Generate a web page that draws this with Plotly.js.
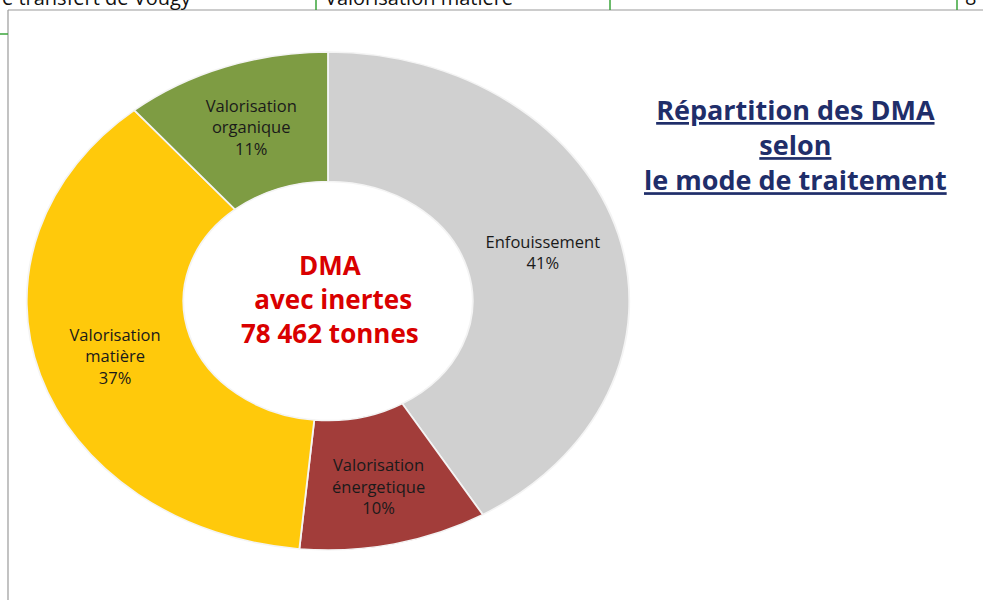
<!DOCTYPE html>
<html>
<head>
<meta charset="utf-8">
<script src="https://cdn.plot.ly/plotly-3.0.1.min.js"></script>
<style>
  html, body { margin: 0; padding: 0; background: #fff; }
  #chart { width: 983px; height: 600px; }
</style>
</head>
<body>
<div id="chart"></div>
<script>
// modes de traitement, dans l'ordre des aiguilles d'une montre depuis midi
const labels = ['Enfouissement', 'Valorisation<br>énergetique', 'Valorisation<br>matière', 'Valorisation<br>organique'];
const shares = [41, 10, 37, 11];
const colors = ['#d0d0d0', '#a23d3a', '#ffc90b', '#7e9c43'];

const centerText = ['DMA', ' avec inertes', '78 462 tonnes'];
const titleLines = ['Répartition des DMA', 'selon', 'le mode de traitement'];
// bout de tableau coupé en haut de l'image
const tableCells = ['e transfert de Vougy', 'Valorisation matière', '8'];

const W = 983, H = 600;
const stretchX = 1.21; // l'anneau est plus large que haut

const data = [{
  type: 'pie',
  labels: labels,
  values: shares,
  hole: 0.48,
  sort: false,
  direction: 'clockwise',
  rotation: 0,
  marker: {colors: colors, line: {color: '#f4f4f4', width: 1.5}},
  texttemplate: '%{label}<br>%{percent:.0%}',
  textposition: 'inside',
  insidetextorientation: 'horizontal',
  textfont: {family: 'Open Sans', size: 16.5, color: '#1a1a1a'},
  domain: {x: [(328 - 249) / W, (328 + 249) / W], y: [1 - 550 / H, 1 - 52 / H]},
  showlegend: false
}];

const ann = [{
  x: 330 / W, y: 1 - 299 / H, xref: 'paper', yref: 'paper',
  xanchor: 'center', yanchor: 'middle',
  text: '<b>' + centerText.join('<br>') + '</b>',
  showarrow: false,
  font: {family: 'Open Sans', size: 26, color: '#d90000'}
}, {
  x: 795 / W, y: 1 - 144 / H, xref: 'paper', yref: 'paper',
  xanchor: 'center', yanchor: 'middle',
  text: titleLines.map(t => '<b><span style="text-decoration:underline">' + t + '</span></b>').join('<br>'),
  showarrow: false,
  font: {family: 'Open Sans', size: 27, color: '#1f2e6a'}
}];

const cellX = [0, 323, 963];
tableCells.forEach((t, i) => {
  ann.push({
    x: cellX[i] / W, y: 1 + 2 / H, xref: 'paper', yref: 'paper',
    xanchor: 'left', yanchor: 'middle',
    text: t, showarrow: false,
    font: {family: 'Open Sans', size: 20, color: '#111'}
  });
});

const px = v => v / W, py = v => 1 - v / H;
const shapes = [
  {type: 'line', xref: 'paper', yref: 'paper', x0: px(8), x1: 1, y0: py(10), y1: py(10), line: {color: '#9a9a9a', width: 1.2}},
  {type: 'line', xref: 'paper', yref: 'paper', x0: px(8), x1: px(8), y0: py(10), y1: 0, line: {color: '#9a9a9a', width: 1.2}},
  {type: 'line', xref: 'paper', yref: 'paper', x0: 0, x1: px(8), y0: py(34), y1: py(34), line: {color: '#3aa53a', width: 1.5}}
];
[316, 610, 957].forEach(x => {
  shapes.push({type: 'line', xref: 'paper', yref: 'paper', x0: px(x), x1: px(x), y0: py(10), y1: 1, line: {color: '#3aa53a', width: 1.5}});
});

const layout = {
  width: W, height: H,
  margin: {l: 0, r: 0, t: 0, b: 0},
  paper_bgcolor: '#ffffff',
  annotations: ann,
  shapes: shapes
};

const gd = document.getElementById('chart');
Plotly.newPlot(gd, data, layout, {staticPlot: true}).then(stretchDonut);

// étire l'anneau en ellipse et recale les étiquettes
function stretchDonut() {
  const paths = gd.querySelectorAll('.pielayer path.surface');
  let x0 = Infinity, x1 = -Infinity, y0 = Infinity, y1 = -Infinity;
  paths.forEach(p => {
    const b = p.getBBox();
    x0 = Math.min(x0, b.x); x1 = Math.max(x1, b.x + b.width);
    y0 = Math.min(y0, b.y); y1 = Math.max(y1, b.y + b.height);
  });
  const cx = (x0 + x1) / 2, cy = (y0 + y1) / 2;
  paths.forEach(p => {
    p.setAttribute('transform', `translate(${cx},${cy}) scale(${stretchX},1) translate(${-cx},${-cy})`);
  });
  gd.querySelectorAll('.pielayer g.slicetext text').forEach(t => {
    const b = t.getBBox();
    const lx = b.x + b.width / 2, ly = b.y + b.height / 2;
    const m = t.transform.baseVal.consolidate();
    const mm = m ? m.matrix : {a: 1, b: 0, c: 0, d: 1, e: 0, f: 0};
    const X = mm.a * lx + mm.c * ly + mm.e;
    const Y = mm.b * lx + mm.d * ly + mm.f;
    const nx = cx + stretchX * (X - cx);
    t.setAttribute('transform', `translate(${nx - lx},${Y - ly})`);
  });
}
</script>
</body>
</html>
